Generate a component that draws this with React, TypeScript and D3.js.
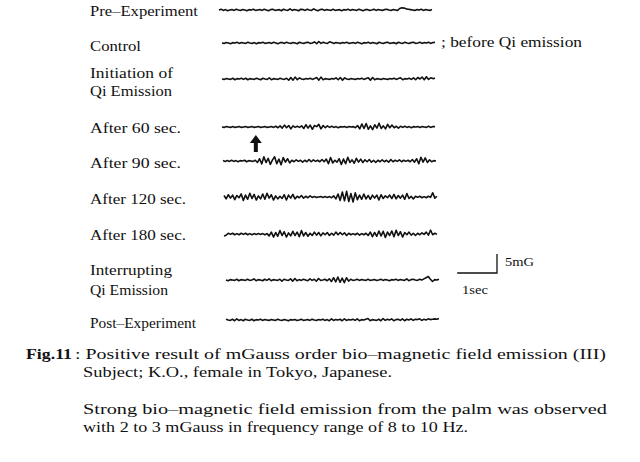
import React from "react";
import * as d3 from "d3";

const PRE = [0,0.2,-0.1,0.1,-0.2,0,0.1,-0.1,0.2,0,-0.1,0.1,0,-0.2,0.1,0,0.2,-0.1,0,0.1,-0.1,0.2,0,-0.2,0.1,0.2,-0.1,0,0.1,-0.2,0.2,0,-0.1,0.3,-0.1,0.1,0,-0.2,0.2,0.1,-0.1,0.2,0,-0.1,0.3,0,-0.2,0.1,0.2,-0.1,0.1,0,-0.1,0.2,-0.1,0,0.1,-0.2,0.1,0,0.2,-0.1,0.1,0,-0.1,0.2,0,-0.2,0.1,0.1,-0.1,0,0.2,-0.1,0.1,0,-0.1,0.1,0.2,0,-0.1,0.1,0,-0.1,0.4,0.6,0.5,0.3,0.2,0.1,0,-0.1,0.1,0,0.2,-0.1,0.1,0,-0.1,0.1];
const CONTROL = [0,-0.1,0.1,0,-0.2,0.1,0,0.2,-0.1,0.1,0,-0.1,0.2,0,-0.1,0.1,-0.2,0.1,0,0.2,-0.1,0,0.1,-0.1,0.2,0,-0.2,0.1,0.1,-0.1,0.2,0,-0.1,0.1,0,-0.2,0.2,0,-0.1,0.1,0.2,-0.1,0,0.3,-0.2,0.4,-0.1,0.2,0,-0.1,0.3,0.1,-0.1,0.1,0,-0.1,0.1,0,0.2,-0.1,0,0.1,-0.1,0.2,0,-0.2,0.1,0,0.2,-0.1,0.1,0,-0.2,0.2,0,-0.1,0.1,0.2,-0.1,0,0.1,-0.2,0.2,0,-0.1,0.2,0,-0.1,0.1,0.2,-0.1,0,0.2,-0.1,0.1,0,0.2,-0.1,0.1,0.2];
const INITIATION = [0,-0.1,0.1,0,-0.1,0.2,-0.2,0.1,0,0.2,-0.1,0.2,-0.2,0.1,0,-0.1,0.2,0,-0.2,0.2,0,-0.1,0.3,-0.2,0.1,0,-0.1,0.2,0,-0.1,0.2,-0.3,0.4,-0.3,0.5,-0.2,0.3,0,-0.1,0.1,0,0.2,-0.1,0.1,0.4,-0.3,0.5,-0.2,0.1,0,-0.1,0.1,0,0.3,-0.2,0.4,-0.3,0.3,0,-0.1,0.1,0,-0.1,0.1,0,0.2,-0.1,0.1,0.3,-0.3,0.4,-0.2,0.1,0,-0.1,0.1,0,-0.1,0.1,0,0.2,-0.1,0.1,0.3,-0.2,0.1,0,0.2,-0.1,0.3,-0.2,0.4,0,0.5,-0.2,0.6,-0.1,0.3,0.1,0.2];
const AFTER60 = [0,-0.1,0.1,0,-0.1,0.1,-0.1,0,0.1,-0.1,0,0.1,-0.1,0,0.1,-0.1,0,0.1,-0.1,0,0.1,-0.1,0,0.1,-0.1,0.2,-0.2,0.3,-0.3,0.5,-0.2,0.4,-0.5,0.3,-0.1,0.2,-0.1,0.3,-0.4,0.6,-0.3,0.5,-0.6,0.4,0.1,0.7,-0.5,0.4,-0.2,0.3,-0.1,0.2,-0.1,0.1,-0.2,0.1,0,0.1,-0.1,0.1,0,0.1,-0.2,0.4,-0.5,0.8,-0.4,0.9,-0.6,0.3,-0.7,0.6,-0.3,1.0,-0.4,0.3,-0.5,0.7,-0.2,0.5,-0.2,0.2,-0.3,0.2,-0.1,0.2,-0.1,0.1,-0.2,0.1,0,0.1,-0.1,0.1,0,-0.1,0.2,-0.1,0.1,0.1];
const AFTER90 = [0.1,-0.1,0.1,-0.1,0.2,-0.1,0.1,-0.2,0.1,0,0.2,-0.2,0.1,0,-0.1,0.2,-0.4,0.6,-0.8,1.1,-0.4,0.7,-0.9,0.3,1.1,-0.7,0.5,-1.0,0.9,-0.3,0.6,-0.5,0.2,-0.2,0.3,-0.1,0.2,-0.3,0.2,-0.2,0.4,-0.2,0.3,-0.1,0.2,-0.2,0.4,-0.2,0.5,-0.7,0.9,-0.5,0.2,-0.3,0.6,-0.9,0.5,-0.7,1.0,-0.4,0.3,-0.6,0.7,-0.3,0.5,-0.4,0.3,-0.2,0.4,-0.3,0.2,-0.4,0.2,-0.2,0.3,-0.2,0.2,-0.3,0.4,-0.2,0.2,-0.1,0.3,-0.2,0.2,-0.1,0.2,-0.2,0.4,-0.3,0.6,-0.7,1.0,-0.3,0.8,-0.4,0.3,-0.2,0.1,0];
const AFTER120 = [0.4,-0.5,0.6,-0.3,0.5,-0.7,0.4,-0.2,0.8,-0.9,0.5,-0.6,1.0,-0.4,0.7,-0.8,0.3,-0.5,0.8,-0.6,1.0,-0.3,0.6,-0.8,0.3,-0.5,0.2,-0.4,0.6,-0.8,0.5,-0.3,0.7,-0.5,0.2,-0.2,0.4,-0.3,0.2,-0.2,0.3,-0.1,0.1,-0.1,0,0.1,-0.1,0.1,-0.1,0.1,-0.2,0.3,-0.5,0.8,-0.9,1.3,-1.0,1.5,-1.2,0.9,-1.3,1.1,-0.7,0.5,-0.6,0.8,-0.5,0.4,-0.6,0.5,-0.3,0.5,-0.8,0.6,-0.4,0.3,-0.2,0.5,-0.4,0.7,-0.5,0.4,-0.3,0.5,-0.6,0.9,-0.4,0.2,-0.5,0.2,-0.1,0.2,-0.2,0.1,-0.2,0.2,-0.1,1.1,-0.3,0.2];
const AFTER180 = [-0.5,-0.3,0.2,-0.1,0.2,-0.2,0.1,-0.2,0.2,-0.1,0.2,-0.2,0.1,-0.2,0.1,-0.1,0.1,-0.1,0.1,-0.2,0.1,-0.5,0.5,-0.8,0.4,-0.6,0.9,-0.4,0.6,-0.8,0.3,-0.5,0.7,-0.4,0.5,-0.7,0.9,-0.5,0.4,-0.6,0.2,-0.4,0.5,-0.3,0.4,-0.5,0.3,-0.2,0.4,-0.4,0.2,-0.3,0.5,-0.2,0.4,-0.2,0.3,-0.4,0.2,-0.2,0.1,-0.2,0.2,-0.3,0.1,-0.2,0.2,-0.4,0.5,-0.7,0.4,-0.6,0.8,-0.5,0.7,-0.9,0.5,-0.4,0.8,-0.7,1.0,-0.4,0.6,-0.8,0.4,-0.2,0.5,-0.3,0.2,-0.4,0.2,-0.2,0.3,-0.1,0.5,-0.3,1.0,-0.2,0.2,-0.1];
const INTERRUPTING = [0,-0.2,0.1,0,-0.1,0.2,-0.2,0.1,0,-0.1,0.2,-0.1,0,0.3,-0.2,0.1,0,-0.2,0.2,-0.1,0.3,-0.2,0.1,0,-0.1,0.2,-0.3,0.2,0,-0.1,0.3,-0.3,0.4,-0.2,0.1,-0.1,0.2,0,-0.2,0.3,-0.1,0.2,-0.3,0.4,-0.1,0,0.2,-0.2,0.3,-0.4,0.6,-0.5,0.8,-0.6,0.5,-0.7,0.6,-0.3,0.2,-0.1,0,0.2,-0.1,0.1,0,-0.1,0.2,-0.1,0,0.1,-0.1,0,0.2,-0.1,0.1,0,-0.2,0.1,0,0.2,-0.1,0.1,0,-0.1,0.3,-0.2,0.1,0.2,0,-0.1,0.2,0,0.3,0.6,0.9,0.2,-0.4,0.1,0,0.2];
const POST = [0.2,0,-0.1,0.2,-0.2,0.3,-0.1,0.1,-0.2,0.2,0,-0.1,0.2,-0.2,0.1,0,0.2,-0.1,0.1,0,-0.1,0.1,0,-0.1,0.2,0,-0.1,0.1,0,-0.2,0.1,0,0.1,-0.1,0,0.2,-0.1,0,0.1,-0.1,0.2,0,-0.1,0.1,0,0.2,-0.1,0.1,-0.2,0.3,-0.1,0.1,0,0.2,-0.2,0.3,-0.1,0.1,0,0.2,-0.1,0.3,-0.2,0.1,0,0.2,0.4,-0.2,0.1,0,-0.1,0.2,-0.2,0.4,-0.1,0.2,0,0.3,-0.2,0.1,0.2,-0.1,0.3,-0.2,0.2,0,0.3,-0.1,0.2,0.1,0.3,-0.1,0.2,0,0.3,0.1,0.2,0.3,0.2,0.4];

const ROW_LABELS = [
  ["Pre–Experiment"],
  ["Control"],
  ["Initiation of", "Qi Emission"],
  ["After 60 sec."],
  ["After 90 sec."],
  ["After 120 sec."],
  ["After 180 sec."],
  ["Interrupting", "Qi Emission"],
  ["Post–Experiment"],
];
const ROW_DATA = [PRE, CONTROL, INITIATION, AFTER60, AFTER90, AFTER120, AFTER180, INTERRUPTING, POST];

const DURATION_SEC = 5.35;
const ARROW_TIME_SEC = 0.85;
const SCALE_MG = 5;
const SCALE_SEC = 1;

const CAPTION_HEAD = "Fig.11";
const CAPTION_LINES = [
  ": Positive result of mGauss order bio–magnetic field emission (III)",
  "Subject; K.O., female in Tokyo, Japanese.",
  "Strong bio–magnetic field emission from the palm was observed",
  "with 2 to 3 mGauss in frequency range of 8 to 10 Hz.",
];

// layout
const labelBaselines = [[16], [51], [78, 96], [133], [168], [204], [240], [275, 295], [328]];
const labelWidths = [[108], [51], [83, 82], [91], [91], [96], [96], [82, 78], [106]];
const traceYs = [10, 43, 79, 127, 161, 197, 234, 280, 320];
const traceX0 = [219, 222, 222, 222, 223, 224, 224, 226, 226];

const FONT = "'Times New Roman', 'Liberation Serif', Times, serif";

export default function App() {
  const W = 640, H = 462;
  const x = d3.scaleLinear().domain([0, DURATION_SEC]).range([0, 213]);
  const pxPerMG = 19 / 5;
  const y = d3.scaleLinear().domain([-1, 1]).range([pxPerMG, -pxPerMG]);

  const traces = ROW_DATA.map((arr, i) => {
    const dt = DURATION_SEC / (arr.length - 1);
    const line = d3
      .line<number>()
      .x((_, j) => traceX0[i] + x(j * dt))
      .y((v) => traceYs[i] + y(v));
    return line(arr) || "";
  });

  const ax = traceX0[3] + x(ARROW_TIME_SEC);
  const arrowPath = `M${ax},135 L${ax + 6},143 L${ax + 2},143 L${ax + 2},152 L${ax - 2},152 L${ax - 2},143 L${ax - 6},143 Z`;

  const sbX = 497, sbY = 273;
  const sbH = y(0) - y(SCALE_MG);
  const sbW = x(SCALE_SEC) - x(0);

  return (
    <svg width={W} height={H} style={{ position: "absolute", left: 0, top: 0, background: "#fff" }}>
      <rect width={W} height={H} fill="#fff" />
      {ROW_LABELS.map((lines, i) =>
        lines.map((t, k) => (
          <text
            key={`${i}-${k}`}
            x={90}
            y={labelBaselines[i][k]}
            fontFamily={FONT}
            fontSize={14}
            fill="#111"
            textLength={labelWidths[i][k]}
            lengthAdjust="spacingAndGlyphs"
          >
            {t}
          </text>
        ))
      )}
      {traces.map((d, i) => (
        <path key={i} d={d} fill="none" stroke="#111" strokeWidth={1.6} strokeLinejoin="round" />
      ))}
      <text x={441} y={47} fontFamily={FONT} fontSize={14} fill="#111" textLength={141} lengthAdjust="spacingAndGlyphs">
        ; before Qi emission
      </text>
      <path d={arrowPath} fill="#111" />
      <path d={`M${sbX - sbW},${sbY} L${sbX},${sbY} L${sbX},${sbY - sbH}`} fill="none" stroke="#111" strokeWidth={1.3} />
      <text x={505} y={266} fontFamily={FONT} fontSize={13} fill="#111" textLength={29} lengthAdjust="spacingAndGlyphs">5mG</text>
      <text x={462} y={294} fontFamily={FONT} fontSize={12} fill="#111" textLength={26} lengthAdjust="spacingAndGlyphs">1sec</text>
      <text x={26} y={359} fontFamily={FONT} fontSize={15} fontWeight="bold" fill="#111" textLength={46} lengthAdjust="spacingAndGlyphs">
        {CAPTION_HEAD}
      </text>
      <text x={75} y={359} fontFamily={FONT} fontSize={15} fill="#111" textLength={531} lengthAdjust="spacingAndGlyphs">
        {CAPTION_LINES[0]}
      </text>
      <text x={83} y={377} fontFamily={FONT} fontSize={15} fill="#111" textLength={309} lengthAdjust="spacingAndGlyphs">
        {CAPTION_LINES[1]}
      </text>
      <text x={83} y={414} fontFamily={FONT} fontSize={15} fill="#111" textLength={524} lengthAdjust="spacingAndGlyphs">
        {CAPTION_LINES[2]}
      </text>
      <text x={83} y={432} fontFamily={FONT} fontSize={15} fill="#111" textLength={385} lengthAdjust="spacingAndGlyphs">
        {CAPTION_LINES[3]}
      </text>
    </svg>
  );
}
